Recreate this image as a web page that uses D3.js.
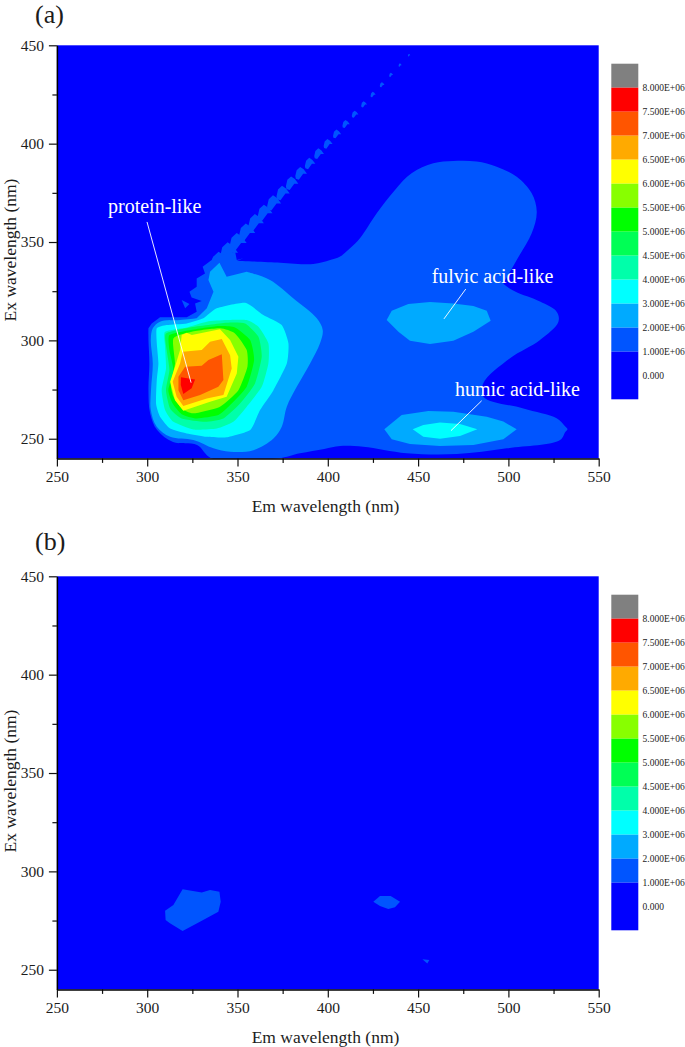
<!DOCTYPE html>
<html><head><meta charset="utf-8">
<style>html,body{margin:0;padding:0;background:#fff}svg{display:block}text{font-family:"Liberation Serif","Times New Roman",serif}</style>
<script src="https://cdn.jsdelivr.net/npm/d3@7/dist/d3.min.js"></script>
</head><body><svg id="c" width="685" height="1047"></svg>
<script>
// Contour level bands, top of legend to bottom
const legendLabels = ["8.000E+06","7.500E+06","7.000E+06","6.500E+06","6.000E+06","5.500E+06","5.000E+06","4.500E+06","4.000E+06","3.000E+06","2.000E+06","1.000E+06","0.000"];
const legendColors = ["#808080","#ff0000","#ff5500","#ffaa00","#ffff00","#88ff00","#00ff00","#00ff55","#00ffaa","#00ffff","#00aaff","#0055ff","#0000ff"];
const majorTicks = [250,300,350,400,450,500,550];
const xMinor = [275,325,375,425,475,525];
const yMajor = [250,300,350,400,450];
const yMinor = [275,325,375,425];

// Contours of panel (a): [Em, Ex] in nm
const a_1e6_jagged = [[300.7,306.1],[302.5,308.6],[307.1,311.7],[321.9,311.7],[327.4,314.6],[326.5,318.8],[330.2,320],[324.6,321.8],[323.4,324.7],[327.4,327.3],[327.4,331.5],[332,334],[330.7,337.4],[335.7,340.8],[336.7,342.5],[341.3,343.4],[348.7,345.1],[349.6,340.8],[353.3,341.7],[349.6,340.5]];
const a_1e6_smooth = [[349.6,340.5],[373.6,339.5],[392,338.8],[401.3,340.8],[406.8,342.6],[412.3,346.8],[417.8,351.9],[427.1,364.6],[437.2,376.5],[446.4,384.9],[458.4,390],[469.5,391.2],[482.4,390.9],[493.5,388.3],[504.6,383.2],[512.9,374.8],[515.7,365.4],[512.9,354.4],[504.6,340.9],[497.8,330],[497.2,329],[498.2,328],[503.7,324.8],[517.5,319.7],[526.7,314.6],[527.7,309.5],[517.5,300.2],[500.9,290.9],[486.1,278.2],[486.1,271.4],[508.3,265.4],[526.7,260.4],[531.5,256.2],[532.7,254.8],[531.5,253.4],[528.6,249.3],[499.1,245.1],[471.4,242.2],[443.7,242.6],[419.7,245.9],[406.8,246.3],[398,244.8],[384.6,242.6],[372.4,240],[335.7,240],[327.6,246.8],[314.3,248.3],[305.5,254.4],[301.6,263],[300.7,274.7],[301.2,288.3],[300.7,300.2],[300.7,306.1]];
const a_1e6_islet = [[319.1,320.5],[323.4,318.5],[321,316.3]];
const a_2e6_spike = [[327.4,311.2],[333,316.3],[336.7,324.7],[333.9,330.7],[334.8,334.9],[340,339.5],[344,332.4],[355.1,334.9]];
const a_2e6_smooth = [[355.1,334.9],[368,330.7],[381,321.3],[393.9,311.2],[397.2,305.2],[395.7,298.5],[390.2,288.3],[382.8,276.4],[377.3,266.3],[374.5,256.1],[369.9,250.1],[358.8,244.2],[345.9,243.4],[336.7,245.1],[325.6,249.3],[312.7,251],[305.3,256.1],[302,264.6],[302.1,274.7],[303.1,288.3],[302,300.2],[303.1,306.1],[307.1,309.5],[318.2,310.3],[327.4,311.2]];
const a_2e6_fulvic = [[432.6,310.4],[435.4,315.1],[444.6,318.5],[456.6,319.5],[469.5,318.8],[480.6,317.5],[488,315.1],[490.2,310],[480.6,304.4],[469.5,299.8],[456.6,298.1],[445.5,299.8],[439.1,304.4]];
const a_2e6_humic = [[431.3,254.8],[440.9,262],[455.7,264.1],[469.5,263.7],[488,261.2],[497.2,258.7],[504.6,254.8],[497.2,249.7],[480.6,246.8],[462.1,246.3],[445.5,247.3],[435.4,249.7]];
const a_3e6 = [[305.3,306.1],[310.8,307.8],[321.9,308.6],[331.1,311.2],[338.5,316.3],[354.2,319.1],[364.3,312.9],[374.5,307.8],[378.2,298.5],[377.3,288.3],[369.9,274.7],[362.5,264.6],[357,254.4],[344,250.7],[333,251],[321.9,252.7],[312.7,255.2],[307.1,261.2],[304.9,267.9],[305.3,279.8],[306.2,288.3],[305.3,298.5]];
const a_3e6_humic = [[447,254.8],[452.9,257],[462.1,258.3],[473.2,257.5],[482.8,254.8],[473.2,251.4],[462.1,250],[452.9,251]];
const a_4e6 = [[309.9,304.4],[321.9,306.6],[333,309.5],[344,310.3],[355.1,310.3],[361.6,306.9],[367.1,298.5],[367.1,288.3],[363.4,276.4],[355.1,266.3],[347.7,258.6],[338.5,255.2],[325.6,254.7],[314.5,258.6],[309.9,264.6],[308,274.7],[310.4,285.7],[309.9,296.8]];
const a_45e5 = [[310.4,303.5],[323.7,306.6],[344,309],[354.2,308.6],[361.6,301.8],[363.4,291.7],[359.7,278.1],[351.4,267.9],[342.2,260.3],[332,258.6],[319.1,260.3],[312.7,265.4],[310.4,274.7],[312.3,284.9],[310.8,295.1]];
const a_5e6 = [[312.3,302.7],[323.7,305.2],[339.4,307.3],[348.6,306.6],[357,300.2],[359.2,290],[355.1,276.4],[345.9,267.1],[339.4,262],[327.4,260.3],[319.1,262.5],[314.1,267.9],[311.7,274.7],[314.5,284.9],[312.3,295.1]];
const a_55e5 = [[314.5,301],[324.7,304.4],[340.3,306.1],[348.6,303.5],[355.1,295.1],[355.5,286.6],[350.5,274.7],[340.3,266.3],[325.6,262.9],[319.1,265.4],[314.5,271.3],[313,278.1],[315.4,288.3]];
const a_6e6 = [[319.1,302.7],[321.9,303.9],[324.7,302.7],[340.3,305.6],[345.9,300.2],[350.5,291.7],[349.6,283.2],[344,271.3],[334.8,268.8],[320,264.2],[315.4,269.6],[312.7,279],[315.4,286.6],[318.2,295.1]];
const a_65e5 = [[319.7,294.2],[330.2,295.1],[334.8,299.3],[341.3,300.7],[345.9,292.5],[346.8,285.7],[342.2,272.2],[333,270.5],[320,266.6],[316.3,271.3],[314.1,279],[318.2,288.3]];
const a_7e6 = [[321,286.6],[330.2,287.1],[333.9,290],[341.3,293],[342.2,279.8],[339.4,276.4],[329.3,272.2],[320,269.6],[317.3,274.7],[317.3,281.5]];
const a_75e5 = [[318.7,281.2],[326.5,280.1],[324.6,275.6],[320,272.7],[318.6,277.3]];

// Scatter teeth along the Rayleigh diagonal: Em = Ex, with their half widths in nm
const toothEm = [445,440,435,430,425,420,415,410,405,400,395,390,385,380,375,370,365,360,355,350,345,340];
const toothHalfWidth = [0.6,0.8,1.0,1.2,1.3,1.5,1.7,1.9,2.1,2.3,2.5,2.7,3.0,3.2,3.4,3.6,3.8,4.0,4.2,4.4,4.6,4.8];
const toothShape = [[-1,-0.5],[-0.75,0.5],[-0.1,1.05],[0.55,0.65],[1.15,-0.1],[0.45,-0.1],[-0.35,-1.1],[-0.9,-0.95]];

// Contours of panel (b)
const b_1e6_a = [[309.9,280],[314.5,282.9],[319.6,290.9],[330.2,289.2],[334.8,290.5],[340,289.7],[340.7,284.6],[339.4,279.5],[329.2,274.4],[319.6,269.7],[312.6,273.6],[310.2,275.3]];
const b_1e6_b = [[425.2,284.6],[428.9,287.5],[434.8,287.5],[440,284.6],[437.2,281.7],[433.5,280.9],[428.9,282.4]];
const b_1e6_c = [[452.4,255.3],[456.2,254.9],[455.1,253.2]];

// Annotations of panel (a)
const annoNames = ["protein-like","fulvic acid-like","humic acid-like"];
const annoText = [[278.3,364.9],[457.5,329.3],[470.4,271.7]];
const annoFrom = [[299.9,360.2],[476.4,326.1],[485.2,269.3]];
const annoTo = [[324.3,278.5],[464.3,310.9],[468.2,254.1]];

const toothPolys = toothEm.map((e,i)=>toothShape.map(p=>[e+p[0]*toothHalfWidth[i], e+p[1]*toothHalfWidth[i]]));
const L = "lin", S = "smooth", C = "card";
const panelA = [
  ...toothPolys.map(p=>["#0055ff",[[p,L]]]),
  ["#0055ff",[[a_1e6_smooth,S],[a_1e6_jagged,L]]],["#0055ff",[[a_1e6_islet,L]]],
  ["#00aaff",[[a_2e6_smooth,S],[a_2e6_spike,L]]],["#00aaff",[[a_2e6_fulvic,L]]],["#00aaff",[[a_2e6_humic,L]]],
  ["#00ffff",[[a_3e6,C]]],["#00ffff",[[a_3e6_humic,L]]],
  ["#00ffaa",[[a_4e6,C]]],["#00ff55",[[a_45e5,C]]],["#00ff00",[[a_5e6,C]]],["#88ff00",[[a_55e5,C]]],
  ["#ffff00",[[a_6e6,L]]],["#ffaa00",[[a_65e5,L]]],["#ff5500",[[a_7e6,L]]],["#ff0000",[[a_75e5,L]]]
];
const panelB = [["#0055ff",[[b_1e6_a,L]]],["#0055ff",[[b_1e6_b,L]]],["#0055ff",[[b_1e6_c,L]]]];

const svg = d3.select("#c");
const ink = "#1c1c1c";
function panel(dy, name, nameY, layers, annotated, id){
  const g = svg.append("g").attr("transform",`translate(0,${dy})`);
  const x = d3.scaleLinear().domain([250,550]).range([56.9,598.7]);
  const y = d3.scaleLinear().domain([240,450]).range([458.4,45.3]);
  const line = d3.line().x(d=>x(d[0])).y(d=>y(d[1]));
  const curves = {lin:d3.curveLinear, smooth:d3.curveCatmullRom.alpha(0.5), card:d3.curveCardinalClosed.tension(0.45)};
  const path = parts => parts.map(([pts,kind],i)=>{
    const s = line.curve(curves[kind])(pts);
    return i ? s.replace(/^M/,"L") : s;
  }).join("")+"Z";
  g.append("clipPath").attr("id",id).append("rect").attr("x",x(250)).attr("y",y(450)).attr("width",x(550)-x(250)).attr("height",y(240)-y(450));
  g.append("rect").attr("x",x(250)).attr("y",y(450)).attr("width",x(550)-x(250)).attr("height",y(240)-y(450)).attr("fill","#0000ff");
  const plot = g.append("g").attr("clip-path",`url(#${id})`);
  plot.selectAll("path").data(layers).join("path").attr("fill",d=>d[0]).attr("d",d=>path(d[1]));

  if(annotated){
    g.selectAll("line.anno").data(annoFrom).join("line").attr("class","anno")
      .attr("x1",d=>x(d[0])).attr("y1",d=>y(d[1]))
      .attr("x2",(d,i)=>x(annoTo[i][0])).attr("y2",(d,i)=>y(annoTo[i][1]))
      .attr("stroke","#fff").attr("stroke-width",0.9);
    g.selectAll("text.anno").data(annoNames).join("text").attr("class","anno")
      .attr("x",(d,i)=>x(annoText[i][0])).attr("y",(d,i)=>y(annoText[i][1]))
      .attr("fill","#fff").attr("font-size",20).text(d=>d);
  }

  const styleAxis = a=>{
    a.selectAll("path").attr("stroke","#000").attr("stroke-width",1.5);
    a.selectAll("line").attr("stroke","#111").attr("stroke-width",1.2);
    a.selectAll("text").attr("fill",ink).attr("font-size",15.5).attr("font-family",'"Liberation Serif",serif');
  };
  const bx = g.append("g").attr("transform",`translate(0,${y(240)})`);
  bx.append("g").call(d3.axisBottom(x).tickValues(xMinor).tickSize(4.5).tickFormat("").tickSizeOuter(0)).call(styleAxis).select("path").remove();
  bx.append("g").call(d3.axisBottom(x).tickValues(majorTicks).tickSize(8).tickPadding(5).tickSizeOuter(0).tickFormat(d3.format("d"))).call(styleAxis);
  const ly = g.append("g").attr("transform",`translate(${x(250)},0)`);
  ly.append("g").call(d3.axisLeft(y).tickValues(yMinor).tickSize(4.5).tickFormat("").tickSizeOuter(0)).call(styleAxis).select("path").remove();
  ly.append("g").call(d3.axisLeft(y).tickValues(yMajor).tickSize(8).tickPadding(5).tickSizeOuter(0).tickFormat(d3.format("d"))).call(styleAxis);

  g.append("text").attr("x",325.5).attr("y",512).attr("text-anchor","middle").attr("font-size",17.5).attr("fill",ink).text("Em wavelength (nm)");
  g.append("text").attr("transform",`translate(15.8,250) rotate(-90)`).attr("text-anchor","middle").attr("font-size",17.5).attr("fill",ink).text("Ex wavelength (nm)");
  g.append("text").attr("x",35).attr("y",nameY).attr("font-size",26).attr("fill",ink).text(name);

  // Legend
  const ly2 = d3.scalePoint().domain(legendLabels).range([87.7,375.7]);
  const step = ly2.step();
  const bandBottom = l => l==="0.000" ? ly2(l)+step-0.4 : ly2(l);
  const bandTop = l => ly2(l)-step;
  g.selectAll("rect.band").data(legendLabels).join("rect").attr("class","band")
    .attr("x",611.3).attr("width",27).attr("y",bandTop).attr("height",l=>bandBottom(l)-bandTop(l))
    .attr("fill",(l,i)=>legendColors[i]);
  g.selectAll("text.leg").data(legendLabels).join("text").attr("class","leg")
    .attr("x",642.6).attr("y",l=>ly2(l)+3).attr("font-size",9.5).attr("fill",ink).text(l=>l);
}
panel(0,"(a)",23.4,panelA,true,"clipA");
panel(531,"(b)",19,panelB,false,"clipB");
</script></body></html>
